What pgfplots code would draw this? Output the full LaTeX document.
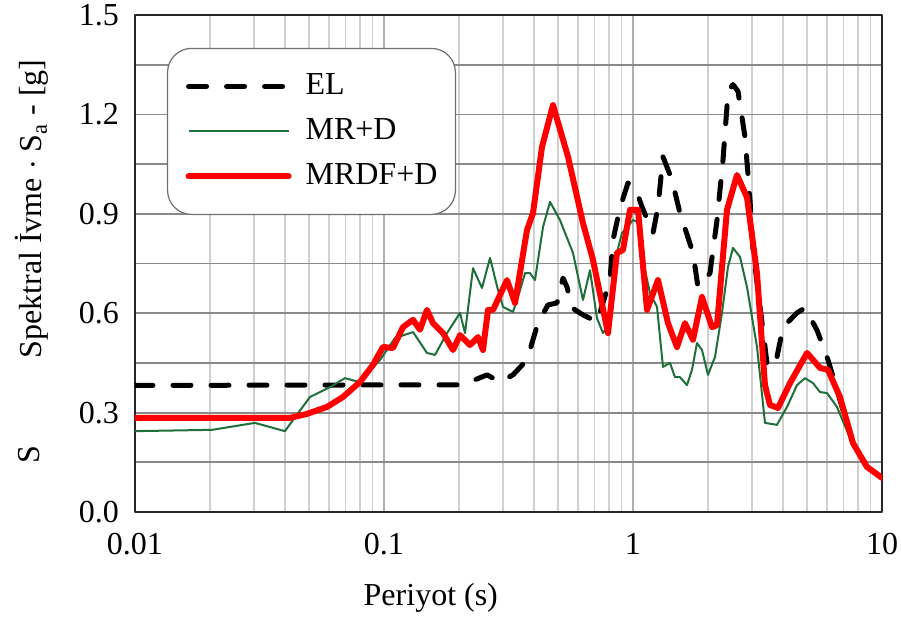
\documentclass[border=0pt]{standalone}
\usepackage{fontspec}
\setmainfont{Liberation Serif}
\usepackage{pgfplots}
\pgfplotsset{compat=1.18}
\definecolor{mrgreen}{HTML}{1F6F3A}
\definecolor{hgrid}{HTML}{8A8A8A}
\definecolor{vgrid}{HTML}{D0D0D0}
\definecolor{vmgrid}{HTML}{B0B0B0}
\definecolor{legdraw}{HTML}{707070}
\newcommand\ff{\fontsize{16}{19}\selectfont}
\begin{document}
\begin{tikzpicture}
\useasboundingbox (-67.5pt,-52.5pt) rectangle (383pt,256pt);
\begin{axis}[
  scale only axis, width=373.5pt, height=248.5pt,
  xmode=log, xmin=0.01, xmax=10, ymin=0, ymax=1.5,
  xtick={0.01,0.1,1,10}, xticklabels={0.01,0.1,1,10},
  ytick={0,0.15,0.3,0.45,0.6,0.75,0.9,1.05,1.2,1.35,1.5},
  yticklabels={0.0,,0.3,,0.6,,0.9,,1.2,,1.5},
  xmajorgrids, xminorgrids, ymajorgrids,
  major x grid style={vmgrid, line width=0.75pt},
  minor x grid style={vgrid, line width=0.75pt},
  major y grid style={hgrid, line width=0.9pt},
  major tick length=0pt, minor tick length=0pt,
  axis line style={black!85, line width=0.9pt},
  /pgf/number format/assume math mode=true,
  tick label style={font=\ff},
  yticklabel style={xshift=-4.5pt},
  xticklabel style={yshift=-7pt},
  xlabel={Periyot (s)},
  xlabel style={font=\ff, at={(axis description cs:0.396,0)}, anchor=center, yshift=-43pt},
  legend cell align=left,
  legend image code/.code={\draw[#1] (0pt,0pt) -- (50pt,0pt);},
  legend style={at={(rel axis cs:0.0428,0.934)}, anchor=north west, draw=legdraw, line width=0.6pt,
    rounded corners=12pt, fill=white, inner xsep=9pt, inner ysep=12pt, row sep=8.5pt, column sep=7pt,
    font=\ff, nodes={inner sep=0pt, text height=11pt, text depth=3pt}},
  line join=round,
]
\addplot[black, line width=2.5pt, line cap=round, dash pattern=on 9pt off 10pt] coordinates {
(0.01,0.382) (0.2077,0.384) (0.2593,0.414) (0.2924,0.392) (0.3297,0.414) (0.3753,0.459)
(0.4155,0.571) (0.4557,0.625) (0.4952,0.631) (0.5235,0.706) (0.5432,0.679) (0.5689,0.616)
(0.6298,0.595) (0.6908,0.580) (0.7168,0.573) (0.8084,0.700) (0.8312,0.821) (0.8868,0.918)
(0.9548,0.993) (1.0186,0.981) (1.0868,0.921) (1.2032,0.842) (1.2601,0.921) (1.3196,1.072)
(1.4340,1.002) (1.5443,0.902) (1.7418,0.782) (1.8239,0.679) (1.9460,0.700) (2.0379,0.721)
(2.1745,0.881) (2.2985,1.062) (2.41,1.27) (2.52,1.29) (2.64,1.27) (2.8171,1.132)
(2.9505,0.942) (3.0334,0.791) (3.4525,0.450) (3.7177,0.438) (4.0031,0.558) (4.5565,0.601)
(4.9066,0.616) (5.4828,0.549) (6.0694,0.459) (6.7810,0.338) (7.1022,0.287) (7.6471,0.208)
(8.7063,0.136) (10,0.103)
};
\addlegendentry{EL}
\addplot[mrgreen, line width=1pt] coordinates {
(0.01,0.244) (0.0204,0.248) (0.0303,0.269) (0.040,0.244) (0.0504,0.347) (0.0607,0.377)
(0.0697,0.404) (0.080,0.392) (0.0964,0.459) (0.1107,0.525) (0.1308,0.543) (0.1488,0.480)
(0.1603,0.474) (0.1791,0.540) (0.202,0.601) (0.2115,0.540) (0.2278,0.736) (0.2475,0.676)
(0.2666,0.767) (0.287,0.670) (0.3006,0.619) (0.3297,0.604) (0.3453,0.649) (0.3685,0.721)
(0.3858,0.721) (0.4041,0.700) (0.4351,0.860) (0.4642,0.936) (0.5091,0.881) (0.5741,0.782)
(0.6298,0.640) (0.6719,0.730) (0.7168,0.585) (0.7578,0.540) (0.8084,0.570) (0.8467,0.761)
(0.9033,0.842) (1.0,0.881) (1.0474,0.875) (1.1174,0.730) (1.1703,0.661) (1.2486,0.619)
(1.3196,0.438) (1.4078,0.450) (1.4743,0.407) (1.5443,0.407) (1.6475,0.383) (1.7254,0.429)
(1.8072,0.510) (1.8927,0.489) (2.0007,0.414) (2.1348,0.468) (2.2774,0.601) (2.4072,0.740)
(2.5211,0.797) (2.6897,0.770) (2.8696,0.679) (3.1477,0.498) (3.236,0.414) (3.389,0.269)
(3.787,0.263) (4.154,0.317) (4.557,0.383) (4.907,0.404) (5.283,0.389) (5.637,0.362)
(6.014,0.359) (6.596,0.317) (7.647,0.202) (8.390,0.148) (10,0.103)
};
\addlegendentry{MR+D}
\addplot[red, line width=3pt, line cap=round] coordinates {
(0.01,0.284) (0.0419,0.284) (0.049,0.296) (0.059,0.317) (0.0684,0.347) (0.080,0.392)
(0.0903,0.444) (0.099,0.498) (0.1087,0.495) (0.1192,0.558) (0.1308,0.580) (0.1395,0.550)
(0.1488,0.610) (0.1573,0.570) (0.1726,0.540) (0.1893,0.489) (0.202,0.534) (0.2215,0.504)
(0.2385,0.528) (0.2498,0.489) (0.2617,0.610) (0.2741,0.610) (0.3119,0.700) (0.3359,0.631)
(0.3753,0.851) (0.3967,0.902) (0.4311,1.102) (0.4772,1.228) (0.5483,1.072) (0.6298,0.872)
(0.6908,0.761) (0.7936,0.540) (0.8624,0.782) (0.9116,0.791) (0.9727,0.912) (1.0474,0.912)
(1.1383,0.610) (1.2601,0.700) (1.3821,0.570) (1.5018,0.498) (1.6172,0.570) (1.7418,0.520)
(1.8927,0.649) (2.0763,0.558) (2.1745,0.564) (2.3851,0.912) (2.6163,1.017) (2.8696,0.950)
(3.1477,0.720) (3.389,0.383) (3.549,0.323) (3.822,0.314) (4.271,0.389) (4.998,0.480)
(5.637,0.435) (6.069,0.429) (6.781,0.347) (7.647,0.208) (8.706,0.136) (10,0.103)
};
\addlegendentry{MRDF+D}
\end{axis}
\node[rotate=90, font=\ff, anchor=center] at (-51.5pt,151.5pt) {Spektral İvme $\cdot$ S\textsubscript{a} - [g]};
\node[rotate=90, font=\ff, anchor=center] at (-53pt,28.5pt) {S};
\end{tikzpicture}
\end{document}
